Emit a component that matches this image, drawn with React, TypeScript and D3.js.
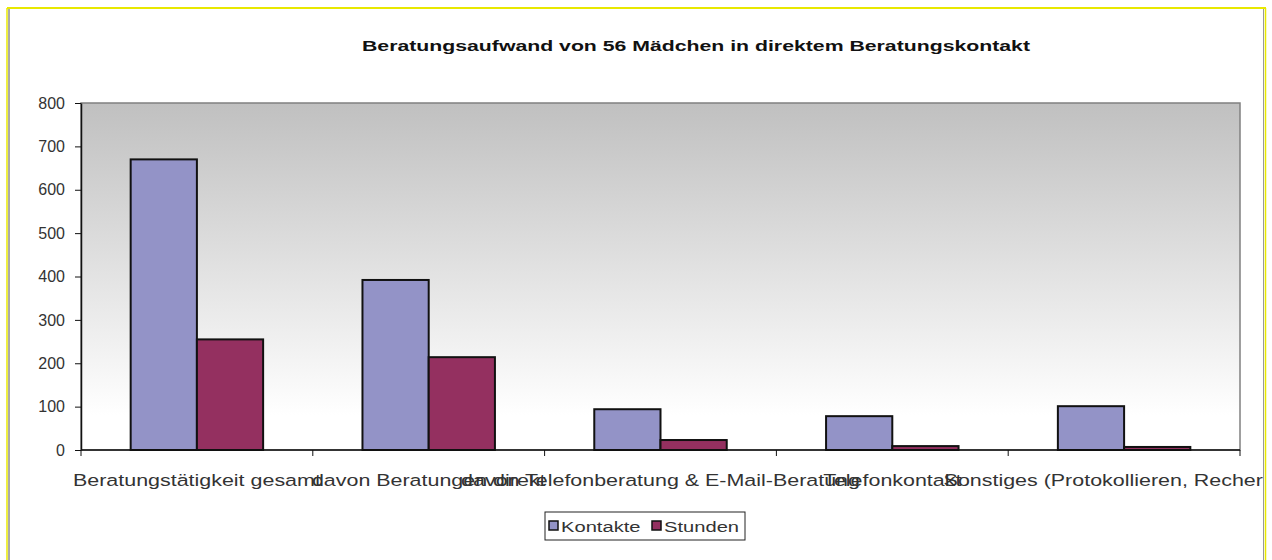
import React, { useEffect, useRef } from 'react'
import * as d3 from 'd3'

const categories = [
  'Beratungstätigkeit gesamt',
  'davon Beratungen direkt',
  'davon Telefonberatung & E-Mail-Beratung',
  'Telefonkontakt',
  'Sonstiges (Protokollieren, Recherche)',
]
const kontakte = [670, 392, 94, 78, 101]
const stunden = [255, 214, 23, 9, 7]
const seriesNames = ['Kontakte', 'Stunden']
const seriesColors = ['#9393c7', '#943060']
const yTicks = [0, 100, 200, 300, 400, 500, 600, 700, 800]
const title = 'Beratungsaufwand von 56 Mädchen in direktem Beratungskontakt'

const W = 1272
const H = 560
const margin = { top: 103, right: 32, bottom: 110, left: 81 }

export default function App() {
  const ref = useRef<SVGSVGElement>(null)

  useEffect(() => {
    const svg = d3.select(ref.current)
    svg.selectAll('*').remove()
    const font = 'Liberation Sans, Arial, sans-serif'

    // frame
    svg.append('rect').attr('x', 0).attr('y', 0).attr('width', W).attr('height', H).attr('fill', '#fff')
    svg.append('line').attr('x1', 7).attr('x2', 1266).attr('y1', 8).attr('y2', 8).attr('stroke', '#e8e800').attr('stroke-width', 2)
    svg.append('line').attr('x1', 7).attr('x2', 7).attr('y1', 8).attr('y2', H).attr('stroke', '#e8e800').attr('stroke-width', 1.5)
    svg.append('line').attr('x1', 9).attr('x2', 9).attr('y1', 9).attr('y2', H).attr('stroke', '#555').attr('stroke-width', 1)
    svg.append('line').attr('x1', 1263.5).attr('x2', 1263.5).attr('y1', 9).attr('y2', H).attr('stroke', '#999').attr('stroke-width', 1)
    svg.append('line').attr('x1', 1265.5).attr('x2', 1265.5).attr('y1', 8).attr('y2', H).attr('stroke', '#e8e800').attr('stroke-width', 1.5)

    const defs = svg.append('defs')
    const grad = defs.append('linearGradient').attr('id', 'bg').attr('x1', 0).attr('x2', 0).attr('y1', 0).attr('y2', 1)
    grad.append('stop').attr('offset', '0%').attr('stop-color', '#c0c0c0')
    grad.append('stop').attr('offset', '90%').attr('stop-color', '#ffffff')
    defs.append('clipPath').attr('id', 'frameclip')
      .append('rect').attr('x', 10).attr('y', 0).attr('width', 1253).attr('height', H)

    const innerW = W - margin.left - margin.right
    const innerH = H - margin.top - margin.bottom

    const x = d3.scaleBand().domain(categories).range([0, innerW]).paddingInner(0).paddingOuter(0)
    // Excel-style gap width 150%: bars side by side, 0.75 step gap on each side
    const x1 = d3.scaleBand().domain(seriesNames).range([0, x.bandwidth()]).paddingInner(0).paddingOuter(0.75)
    const y = d3.scaleLinear().domain([0, 800]).range([innerH, 0])

    // title
    svg.append('text')
      .attr('x', 696).attr('y', 51)
      .attr('text-anchor', 'middle')
      .attr('font-family', font).attr('font-weight', 'bold').attr('font-size', 15)
      .attr('textLength', 668).attr('lengthAdjust', 'spacingAndGlyphs')
      .attr('fill', '#111')
      .text(title)

    const g = svg.append('g').attr('transform', `translate(${margin.left},${margin.top})`)

    g.append('rect').attr('width', innerW).attr('height', innerH).attr('fill', 'url(#bg)')
      .attr('stroke', '#808080').attr('stroke-width', 1.5)

    // bars
    const groups = g.selectAll('.grp').data(categories).enter().append('g')
      .attr('transform', d => `translate(${x(d)},0)`)
    const series = [kontakte, stunden]
    series.forEach((vals, si) => {
      groups.append('rect')
        .attr('x', x1(seriesNames[si]) as number)
        .attr('y', (d, i) => y(vals[i]))
        .attr('width', x1.bandwidth())
        .attr('height', (d, i) => innerH - y(vals[i]))
        .attr('fill', seriesColors[si])
        .attr('stroke', '#111')
        .attr('stroke-width', 2)
    })

    // y axis
    const yAxis = g.append('g').call(d3.axisLeft(y).tickValues(yTicks).tickSize(6).tickSizeOuter(0).tickPadding(10))
    yAxis.select('.domain').attr('stroke', '#111').attr('stroke-width', 1.5)
    yAxis.selectAll('line').attr('stroke', '#111')
    yAxis.selectAll('text').attr('font-family', font).attr('font-size', 16).attr('fill', '#333')

    // x axis
    const xAxisG = g.append('g').attr('transform', `translate(0,${innerH})`)
    xAxisG.append('line').attr('x1', 0).attr('x2', innerW).attr('stroke', '#111').attr('stroke-width', 1.5)
    const bounds = categories.map(c => x(c) as number).concat([innerW])
    xAxisG.selectAll('.tk').data(bounds).enter().append('line')
      .attr('x1', d => d).attr('x2', d => d).attr('y1', 0).attr('y2', 6)
      .attr('stroke', '#111')

    const labels = svg.append('g').attr('clip-path', 'url(#frameclip)')
    labels.selectAll('g').data(categories).enter().append('g')
      .attr('transform', d => `translate(${margin.left + (x(d) as number) + x.bandwidth() / 2},${margin.top + innerH + 36}) scale(1.3,1)`)
      .append('text')
      .attr('text-anchor', 'middle')
      .attr('font-family', font).attr('font-size', 16.5)
      .attr('fill', '#333')
      .text(d => d)

    // legend
    const lg = svg.append('g').attr('transform', 'translate(545,512)')
    lg.append('rect').attr('width', 200).attr('height', 28).attr('fill', '#fff').attr('stroke', '#222').attr('stroke-width', 1)
    const legendX = [4, 107]
    seriesNames.forEach((s, i) => {
      lg.append('rect').attr('x', legendX[i]).attr('y', 9).attr('width', 9).attr('height', 9)
        .attr('fill', seriesColors[i]).attr('stroke', '#111').attr('stroke-width', 1.5)
      lg.append('g').attr('transform', `translate(${legendX[i] + 12},19.5) scale(1.3,1)`)
        .append('text')
        .attr('font-family', font).attr('font-size', 15.5).attr('fill', '#333')
        .text(s)
    })
  }, [])

  return (
    <svg ref={ref} width={W} height={H} style={{ position: 'absolute', left: 0, top: 0, display: 'block' }} />
  )
}
